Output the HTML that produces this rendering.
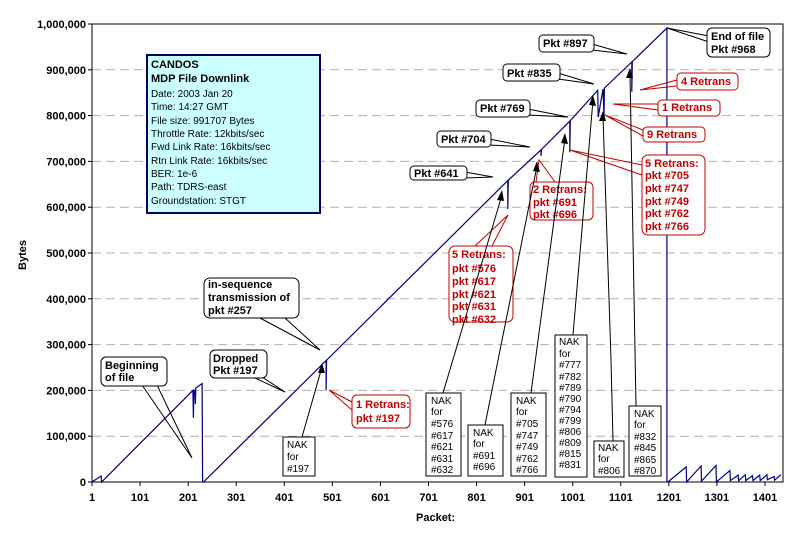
<!DOCTYPE html>
<html><head><meta charset="utf-8"><style>
body{margin:0;background:#fff;}
svg{display:block;font-family:"Liberation Sans",Arial,sans-serif;}
.tk{font-size:11px;font-weight:bold;fill:#000;}
.cb{fill:#fff;stroke:#000;stroke-width:1;}
.cr{fill:#fff;stroke:#c00000;stroke-width:1;}
.bt{font-size:11px;font-weight:bold;fill:#000;}
.rt{font-size:11px;font-weight:bold;fill:#c00000;}
.nk{font-size:10px;fill:#000;}
.pl{stroke:#000;stroke-width:1;fill:none;}
.pr{stroke:#c00000;stroke-width:1;fill:none;}
</style></head><body>
<svg id="chart" width="800" height="540" viewBox="0 0 800 540">
<rect x="0" y="0" width="800" height="540" fill="#fff"/>
<g id="grid"></g>
<g id="axes"></g>
<g id="series"></g>
<g id="ann">
  <!-- info box -->
  <g>
    <rect x="147" y="55" width="173" height="158" fill="#ccffff" stroke="#000066" stroke-width="2"/>
    <text x="151" y="68" class="bt" font-size="12">CANDOS</text>
    <text x="151" y="82" class="bt">MDP File Downlink</text>
    <g class="nk" font-size="10.5">
      <text x="151" y="97">Date: 2003 Jan 20</text>
      <text x="151" y="110">Time: 14:27 GMT</text>
      <text x="151" y="124">File size: 991707 Bytes</text>
      <text x="151" y="137">Throttle Rate: 12kbits/sec</text>
      <text x="151" y="150">Fwd Link Rate: 16kbits/sec</text>
      <text x="151" y="164">Rtn  Link Rate: 16kbits/sec</text>
      <text x="151" y="177">BER: 1e-6</text>
      <text x="151" y="190">Path: TDRS-east</text>
      <text x="151" y="204">Groundstation: STGT</text>
    </g>
  </g>
  <!-- black callouts -->
  <g>
    <polyline class="pl" points="142,385 192,458 157,385"/>
    <rect class="cb" x="101" y="357" width="66" height="29" rx="5"/>
    <text x="105" y="369" class="bt">Beginning</text><text x="105" y="381" class="bt">of file</text>
  </g>
  <g>
    <polyline class="pl" points="255,378 285,392 262,377"/>
    <rect class="cb" x="210" y="350" width="57" height="28" rx="5"/>
    <text x="213" y="362" class="bt">Dropped</text><text x="213" y="374" class="bt">Pkt #197</text>
  </g>
  <g>
    <polyline class="pl" points="260,318 320,350 285,318"/>
    <rect class="cb" x="204" y="278" width="95" height="40" rx="6"/>
    <text x="208" y="288" class="bt">in-sequence</text><text x="208" y="301" class="bt">transmission of</text><text x="208" y="314" class="bt">pkt #257</text>
  </g>
  <g>
    <polyline class="pl" points="465,172 493,177 465,178"/>
    <rect class="cb" x="410" y="166" width="57" height="14" rx="4"/><text x="414" y="177" class="bt">Pkt #641</text>
  </g>
  <g>
    <polyline class="pl" points="489,139 530,147 489,145"/>
    <rect class="cb" x="437" y="131" width="54" height="16" rx="4"/><text x="441" y="143" class="bt">Pkt #704</text>
  </g>
  <g>
    <polyline class="pl" points="528,109 568,117 528,115"/>
    <rect class="cb" x="476" y="100" width="54" height="17" rx="4"/><text x="480" y="112" class="bt">Pkt #769</text>
  </g>
  <g>
    <polyline class="pl" points="558,73 594,84 558,79"/>
    <rect class="cb" x="503" y="64" width="57" height="17" rx="4"/><text x="507" y="77" class="bt">Pkt #835</text>
  </g>
  <g>
    <polyline class="pl" points="592,44 627,54 592,50"/>
    <rect class="cb" x="539" y="35" width="55" height="17" rx="4"/><text x="543" y="47" class="bt">Pkt #897</text>
  </g>
  <g>
    <polyline class="pl" points="709,36 667,28 709,42"/>
    <rect class="cb" x="707" y="28" width="63" height="29" rx="5"/>
    <text x="711" y="40" class="bt">End of file</text><text x="711" y="53" class="bt">Pkt #968</text>
  </g>
  <!-- red callouts -->
  <g>
    <polyline class="pr" points="352,402 329,390 352,410"/>
    <rect class="cr" x="352" y="395" width="58" height="33" rx="5"/>
    <text x="356" y="408" class="rt">1 Retrans:</text><text x="356" y="422" class="rt">pkt #197</text>
  </g>
  <g>
    <polyline class="pr" points="475,246 508,215 492,246"/>
    <rect class="cr" x="449" y="246" width="64" height="76" rx="6"/>
    <text x="452" y="258" class="rt">5 Retrans:</text><text x="452" y="272" class="rt">pkt #576</text><text x="452" y="285" class="rt">pkt #617</text><text x="452" y="298" class="rt">pkt #621</text><text x="452" y="310" class="rt">pkt #631</text><text x="452" y="323" class="rt">pkt #632</text>
  </g>
  <g>
    <polyline class="pr" points="536,182 539,160 555,182"/>
    <rect class="cr" x="530" y="182" width="63" height="38" rx="5"/>
    <text x="533" y="193" class="rt">2 Retrans:</text><text x="533" y="206" class="rt">pkt #691</text><text x="533" y="218" class="rt">pkt #696</text>
  </g>
  <g>
    <polyline class="pr" points="642,165 570,150 642,175"/>
    <rect class="cr" x="642" y="155" width="63" height="80" rx="6"/>
    <text x="645" y="167" class="rt">5 Retrans:</text><text x="645" y="179" class="rt">pkt #705</text><text x="645" y="192" class="rt">pkt #747</text><text x="645" y="205" class="rt">pkt #749</text><text x="645" y="217" class="rt">pkt #762</text><text x="645" y="230" class="rt">pkt #766</text>
  </g>
  <g>
    <polyline class="pr" points="643,130 605,115 643,136"/>
    <rect class="cr" x="643" y="127" width="62" height="15" rx="4"/><text x="647" y="138" class="rt">9 Retrans</text>
  </g>
  <g>
    <polyline class="pr" points="658,104 613,104 658,110"/>
    <rect class="cr" x="658" y="100" width="62" height="16" rx="4"/><text x="662" y="111" class="rt">1 Retrans</text>
  </g>
  <g>
    <polyline class="pr" points="677,80 640,90 677,86"/>
    <rect class="cr" x="677" y="73" width="61" height="17" rx="4"/><text x="681" y="85" class="rt">4 Retrans</text>
  </g>
  <!-- NAK boxes with arrows -->
  <g>
    <line class="pl" x1="302" y1="437" x2="322" y2="367"/><polygon points="322,363 318,373 325,373"/>
    <rect class="cb" x="283" y="437" width="32" height="39"/>
    <text x="287" y="448" class="nk">NAK</text><text x="287" y="460" class="nk">for</text><text x="287" y="472" class="nk">#197</text>
  </g>
  <g>
    <line class="pl" x1="443" y1="393" x2="502" y2="195"/><polygon points="502,190 497,200 504,201"/>
    <rect class="cb" x="426" y="393" width="35" height="83"/>
    <text x="431" y="404" class="nk">NAK</text><text x="431" y="415" class="nk">for</text><text x="431" y="427" class="nk">#576</text><text x="431" y="439" class="nk">#617</text><text x="431" y="450" class="nk">#621</text><text x="431" y="462" class="nk">#631</text><text x="431" y="473" class="nk">#632</text>
  </g>
  <g>
    <line class="pl" x1="485" y1="425" x2="537" y2="166"/><polygon points="537,161 533,171 540,172"/>
    <rect class="cb" x="468" y="425" width="35" height="51"/>
    <text x="473" y="436" class="nk">NAK</text><text x="473" y="447" class="nk">for</text><text x="473" y="459" class="nk">#691</text><text x="473" y="470" class="nk">#696</text>
  </g>
  <g>
    <line class="pl" x1="531" y1="393" x2="565" y2="138"/><polygon points="565,133 561,143 568,144"/>
    <rect class="cb" x="511" y="393" width="35" height="83"/>
    <text x="516" y="404" class="nk">NAK</text><text x="516" y="415" class="nk">for</text><text x="516" y="427" class="nk">#705</text><text x="516" y="439" class="nk">#747</text><text x="516" y="450" class="nk">#749</text><text x="516" y="462" class="nk">#762</text><text x="516" y="473" class="nk">#766</text>
  </g>
  <g>
    <line class="pl" x1="573" y1="335" x2="593" y2="100"/><polygon points="593,95 589,105 596,106"/>
    <rect class="cb" x="555" y="335" width="32" height="142"/>
    <text x="559" y="345" class="nk">NAK</text><text x="559" y="357" class="nk">for</text><text x="559" y="368" class="nk">#777</text><text x="559" y="380" class="nk">#782</text><text x="559" y="391" class="nk">#789</text><text x="559" y="402" class="nk">#790</text><text x="559" y="413" class="nk">#794</text><text x="559" y="424" class="nk">#799</text><text x="559" y="435" class="nk">#806</text><text x="559" y="446" class="nk">#809</text><text x="559" y="457" class="nk">#815</text><text x="559" y="468" class="nk">#831</text>
  </g>
  <g>
    <polyline class="pl" points="613,441 611,360 603,116"/><polygon points="603,111 599,121 606,121"/>
    <rect class="cb" x="594" y="441" width="30" height="36"/>
    <text x="598" y="451" class="nk">NAK</text><text x="598" y="462" class="nk">for</text><text x="598" y="474" class="nk">#806</text>
  </g>
  <g>
    <line class="pl" x1="636" y1="406" x2="630" y2="73"/><polygon points="630,68 626,78 633,78"/>
    <rect class="cb" x="629" y="406" width="32" height="70"/>
    <text x="634" y="417" class="nk">NAK</text><text x="634" y="428" class="nk">for</text><text x="634" y="440" class="nk">#832</text><text x="634" y="451" class="nk">#845</text><text x="634" y="463" class="nk">#865</text><text x="634" y="474" class="nk">#870</text>
  </g>
</g>
<text x="26" y="255" class="tk" transform="rotate(-90 26 255)" text-anchor="middle">Bytes</text>
<text x="416" y="521" class="tk" font-size="12">Packet:</text>
</svg>
<script>
const yTicks = [0,100000,200000,300000,400000,500000,600000,700000,800000,900000,1000000];
const yTickLabels = ["0","100,000","200,000","300,000","400,000","500,000","600,000","700,000","800,000","900,000","1,000,000"];
const xTicks = [1,101,201,301,401,501,601,701,801,901,1001,1101,1201,1301,1401];
const xTickLabels = ["1","101","201","301","401","501","601","701","801","901","1001","1101","1201","1301","1401"];
const packets = [1,20,21,211,212,213,215,216,217,230,231,233,488,488,489,866,866,867,935,935,936,995,995,996,1053,1054,1064,1066,1067,1124,1124,1125,1197,1197,1199,1237,1238,1268,1269,1299,1300,1328,1329,1345,1346,1360,1361,1375,1376,1390,1391,1405,1406,1420,1421,1434];
const bytes = [0,13000,0,200000,140000,200000,200000,170000,205000,215000,0,0,265000,200000,266000,658000,596000,659000,725000,712000,726000,788000,720000,789000,855000,797000,858000,800000,860000,917000,852000,918000,991000,0,0,33000,0,35000,2000,36000,0,25000,3000,15000,3000,16000,3000,14000,3000,15000,3000,16000,5000,12000,4000,16000];

const L=92,R=783,T=24,B=482;
const xScale = p => L + (p-1)*(765-92)/1400;
const yScale = v => B - v*(B-T)/1000000;
const NS="http://www.w3.org/2000/svg";
const grid=document.getElementById('grid'), axes=document.getElementById('axes'), series=document.getElementById('series');
function mk(tag,attrs,parent){const e=document.createElementNS(NS,tag);for(const k in attrs)e.setAttribute(k,attrs[k]);parent.appendChild(e);return e;}
yTicks.forEach((v,i)=>{
  const y=yScale(v);
  if(v>0){const g=mk('line',{x1:L,x2:R,y1:y,y2:y,stroke:'#b0b0b0','stroke-dasharray':'9,5'},grid);
  
  }
  const t=mk('line',{x1:L-4,x2:L,y1:y,y2:y,stroke:'#000'},axes);
  
  
  const lb=mk('text',{x:L-6,y:y+4,'text-anchor':'end','class':'tk'},axes);
  lb.textContent=yTickLabels[i];
  
  
});
xTicks.forEach((p,i)=>{
  const x=xScale(p);
  const t=mk('line',{x1:x,x2:x,y1:B,y2:B+4,stroke:'#000'},axes);
  
  
  const lb=mk('text',{x:x,y:B+19,'text-anchor':'middle','class':'tk'},axes);
  lb.textContent=xTickLabels[i];
  
  
});
const frame=mk('rect',{x:L,y:T,width:R-L,height:B-T,fill:'none',stroke:'#000','stroke-width':1},axes);


const pts=packets.map((p,i)=>xScale(p).toFixed(1)+','+yScale(bytes[i]).toFixed(1)).join(' ');
const line=mk('polyline',{points:pts,fill:'none',stroke:'#000080','stroke-width':1.2},series);


</script>
</body></html>
